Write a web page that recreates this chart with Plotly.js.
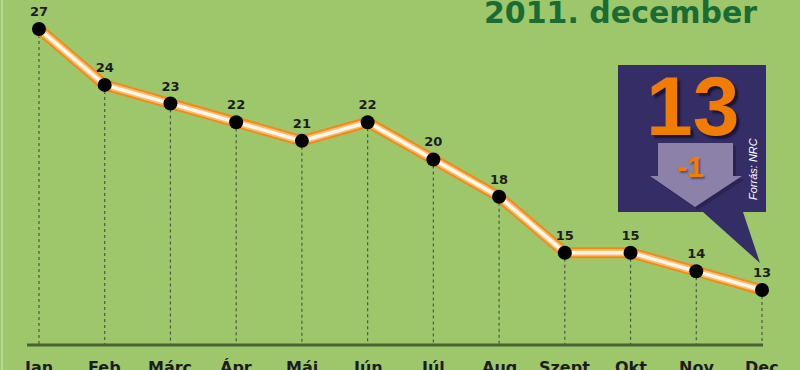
<!DOCTYPE html>
<html><head><meta charset="utf-8">
<script src="https://cdn.plot.ly/plotly-3.0.1.min.js"></script>
<style>html,body{margin:0;padding:0;background:#9dc76a;}#c{width:800px;height:370px;}</style>
</head><body><div id="c"></div>
<script>
const months = ["Jan","Feb","Márc","Ápr","Máj","Jún","Júl","Aug","Szept","Okt","Nov","Dec"];
const values = [27,24,23,22,21,22,20,18,15,15,14,13];
const titleText = "2011. december";
const currentValue = "13";
const changeText = "-1";
const sourceText = "Forrás: NRC";

const W = 800, H = 370;
const idx = months.map((m,i)=>i);
const xr = [-0.593, 11.578];
const yr = [8.706, 28.556];
const baseV = 10.05;

const px = (x)=>x/W, py = (y)=>1 - y/H;

const dx = [], dy = [];
idx.forEach((i)=>{dx.push(i,i,null); dy.push(values[i], baseV, null);});

const wide = 'DejaVu Sans, Verdana, sans-serif';
const narrow = 'Liberation Sans, Arial, sans-serif';

const traces = [
  {x: dx, y: dy, mode:'lines', line:{color:'#4d5a3a', width:1.2, dash:'dot'}, hoverinfo:'skip'},
  {x: idx, y: values, mode:'lines', line:{color:'#f28a1a', width:11}, hoverinfo:'skip'},
  {x: idx, y: values, mode:'lines', line:{color:'#f9bd70', width:7}, hoverinfo:'skip'},
  {x: idx, y: values, mode:'lines', line:{color:'#fff7ec', width:3.5}, hoverinfo:'skip'},
  {x: idx, y: values, mode:'markers+text', text: values.map(String), textposition:'top center',
   textfont:{family:wide, size:13, color:'#1d1d1d', weight:'bold'},
   marker:{color:'#000', size:14}, cliponaxis:false, hoverinfo:'skip'}
];

const shapes = [
  {type:'line', xref:'paper', yref:'paper', x0:px(27), x1:px(763), y0:py(345), y1:py(345), line:{color:'#4a6230', width:3}},
  {type:'line', xref:'paper', yref:'paper', x0:px(2), x1:px(2), y0:0, y1:1, line:{color:'#b6d98c', width:2}},
  {type:'path', xref:'paper', yref:'paper',
   path:`M ${px(618)} ${py(65)} L ${px(766)} ${py(65)} L ${px(766)} ${py(212)} L ${px(743)} ${py(212)} L ${px(760)} ${py(263)} L ${px(703)} ${py(212)} L ${px(618)} ${py(212)} Z`,
   fillcolor:'#352e66', line:{width:0}},
  {type:'path', xref:'paper', yref:'paper',
   path:`M ${px(661)} ${py(146)} L ${px(736)} ${py(146)} L ${px(736)} ${py(179)} L ${px(745)} ${py(179)} L ${px(698)} ${py(210)} L ${px(653)} ${py(179)} L ${px(661)} ${py(179)} Z`,
   fillcolor:'#2a2452', line:{width:0}},
  {type:'path', xref:'paper', yref:'paper',
   path:`M ${px(658)} ${py(143)} L ${px(733)} ${py(143)} L ${px(733)} ${py(176)} L ${px(742)} ${py(176)} L ${px(695)} ${py(207)} L ${px(650)} ${py(176)} L ${px(658)} ${py(176)} Z`,
   fillcolor:'#8c82a9', line:{width:0}}
];

const annotations = months.map((m,i)=>({
  x:i, xref:'x', y:py(356), yref:'paper', yanchor:'top', xanchor:'center', showarrow:false,
  text:'<b>'+m+'</b>', font:{family:wide, size:16, color:'#1d1d1d'}
}));
annotations.push(
  {x:px(759), y:py(12), xref:'paper', yref:'paper', xanchor:'right', yanchor:'middle', showarrow:false,
   text:'<b>'+titleText+'</b>', font:{family:wide, size:30, color:'#1b6b35'}},
  {x:px(692), y:py(106), xref:'paper', yref:'paper', xanchor:'center', yanchor:'middle', showarrow:false,
   text:'<b>'+currentValue+'</b>', font:{family:narrow, size:84, color:'#f27c00', shadow:'3px 3px 2px #1a1538'}},
  {x:px(690), y:py(166), xref:'paper', yref:'paper', xanchor:'center', yanchor:'middle', showarrow:false,
   text:'<b>'+changeText+'</b>', font:{family:narrow, size:30, color:'#f27c00', shadow:'2px 2px 2px #5a4f7a'}},
  {x:px(753), y:py(169), xref:'paper', yref:'paper', xanchor:'center', yanchor:'middle', showarrow:false,
   textangle:-90, text:'<i>'+sourceText+'</i>', font:{family:narrow, size:11, color:'#ffffff'}}
);

const layout = {
  width:W, height:H, margin:{l:0,r:0,t:0,b:0},
  paper_bgcolor:'#9dc76a', plot_bgcolor:'#9dc76a', showlegend:false,
  xaxis:{range:xr, visible:false, fixedrange:true},
  yaxis:{range:yr, visible:false, fixedrange:true},
  shapes, annotations
};
Plotly.newPlot('c', traces, layout, {staticPlot:true, displayModeBar:false});
</script></body></html>
